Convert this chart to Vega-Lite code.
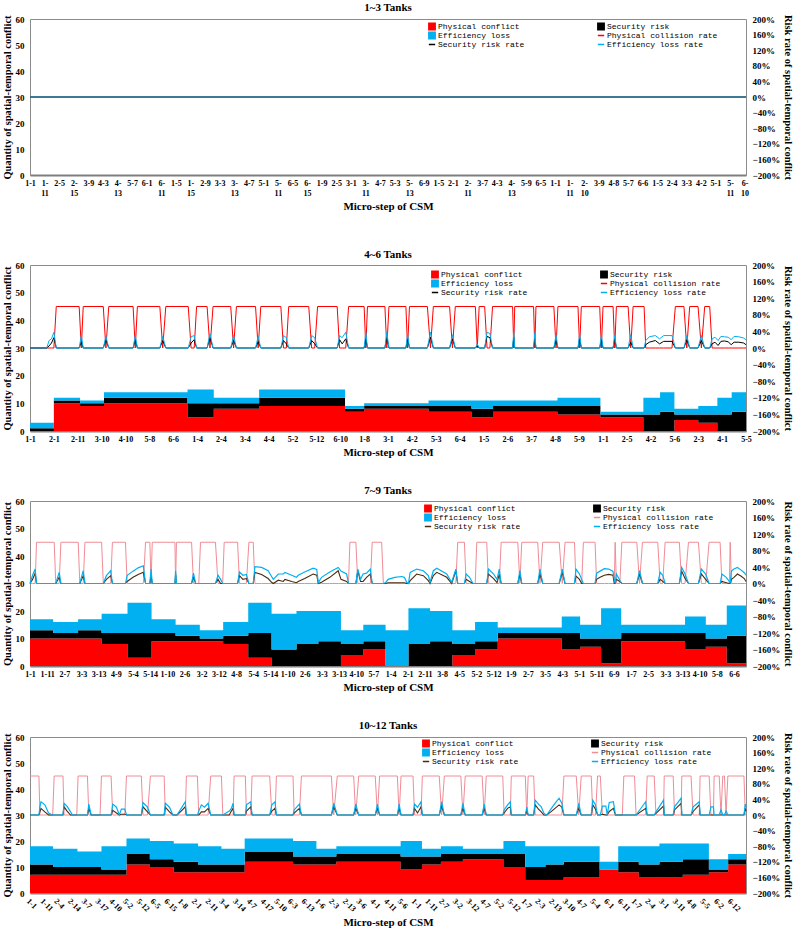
{
"$schema":"https://vega.github.io/schema/vega-lite/v6.json",
"background":"white",
"padding":{"top":1,"left":1,"right":1,"bottom":0},
"datasets":{
"a1":[{"x":0,"c1":0,"c2":0,"c3":0},{"x":491,"c1":0,"c2":0,"c3":0}],
"l1":[{"x":0,"r1":0,"r2":0,"r3":0},{"x":491,"r1":0,"r2":0,"r3":0}],
"a2":[{"x":0,"c1":0,"c2":1,"c3":2},{"x":10,"c1":10,"c2":1,"c3":1},{"x":21,"c1":9,"c2":1,"c3":1},{"x":31,"c1":10,"c2":2,"c3":2},{"x":66,"c1":5,"c2":5,"c3":5},{"x":77,"c1":8,"c2":2,"c3":2},{"x":96,"c1":9,"c2":3,"c3":3},{"x":132,"c1":7,"c2":1,"c3":1},{"x":140,"c1":8,"c2":1,"c3":1},{"x":167,"c1":7,"c2":2,"c3":2},{"x":185,"c1":5,"c2":3,"c3":3},{"x":194,"c1":7,"c2":2,"c3":2},{"x":221,"c1":6,"c2":3,"c3":3},{"x":239,"c1":5,"c2":1,"c3":1},{"x":257,"c1":0,"c2":6,"c3":6},{"x":264,"c1":0,"c2":7,"c3":7},{"x":270,"c1":4,"c2":2,"c3":2},{"x":280,"c1":3,"c2":3,"c3":3},{"x":288,"c1":0,"c2":6,"c3":6},{"x":294,"c1":0,"c2":7,"c3":7},{"x":300,"c1":0,"c2":7,"c3":7}],
"l2":[{"x":0,"r1":0,"r2":0,"r3":0},{"x":7,"r1":0,"r2":0,"r3":0},{"x":8,"r1":0,"r2":0.05,"r3":0.18},{"x":9,"r1":0,"r2":0.12,"r3":0.22},{"x":10,"r1":0,"r2":0.25,"r3":0.38},{"x":11,"r1":1,"r2":0,"r3":0},{"x":20.6,"r1":1,"r2":0,"r3":0},
{"x":21.5,"r1":0,"r2":0.15,"r3":0.3},{"x":22.3,"r1":1,"r2":0,"r3":0},{"x":30.7,"r1":1,"r2":0,"r3":0},
{"x":31.8,"r1":0,"r2":0.2,"r3":0.28},{"x":33,"r1":1,"r2":0,"r3":0},{"x":43.2,"r1":1,"r2":0,"r3":0},
{"x":44.1,"r1":0,"r2":0.2,"r3":0.3},{"x":45,"r1":1,"r2":0,"r3":0},{"x":54.4,"r1":1,"r2":0,"r3":0},
{"x":55.6,"r1":0,"r2":0.18,"r3":0.28},{"x":56.9,"r1":1,"r2":0,"r3":0},{"x":66.3,"r1":1,"r2":0,"r3":0},
{"x":67.5,"r1":0,"r2":0.12,"r3":0.27},{"x":68.8,"r1":0,"r2":0.2,"r3":0.3},{"x":69.8,"r1":1,"r2":0,"r3":0},{"x":74.2,"r1":1,"r2":0,"r3":0},
{"x":75.4,"r1":0,"r2":0.25,"r3":0.35},{"x":76.7,"r1":1,"r2":0,"r3":0},{"x":84.1,"r1":1,"r2":0,"r3":0},
{"x":85.3,"r1":0,"r2":0.18,"r3":0.3},{"x":86.5,"r1":1,"r2":0,"r3":0},{"x":94.5,"r1":1,"r2":0,"r3":0},
{"x":95.6,"r1":0,"r2":0.15,"r3":0.28},{"x":96.7,"r1":1,"r2":0,"r3":0},{"x":105.1,"r1":1,"r2":0,"r3":0},
{"x":106.2,"r1":0,"r2":0.18,"r3":0.3},{"x":107.4,"r1":0,"r2":0.1,"r3":0.25},{"x":108.4,"r1":1,"r2":0,"r3":0},{"x":116.8,"r1":1,"r2":0,"r3":0},
{"x":118,"r1":0,"r2":0.18,"r3":0.3},{"x":119.3,"r1":0,"r2":0.1,"r3":0.25},{"x":120.5,"r1":1,"r2":0,"r3":0},{"x":128.7,"r1":1,"r2":0,"r3":0},
{"x":129.7,"r1":0,"r2":0.2,"r3":0.3},{"x":130.8,"r1":0,"r2":0.1,"r3":0.25},{"x":132.3,"r1":0,"r2":0.22,"r3":0.38},{"x":133.5,"r1":1,"r2":0,"r3":0},{"x":140,"r1":1,"r2":0,"r3":0},
{"x":140.7,"r1":0,"r2":0.22,"r3":0.38},{"x":141.4,"r1":1,"r2":0,"r3":0},{"x":148.7,"r1":1,"r2":0,"r3":0},
{"x":149.5,"r1":0,"r2":0.25,"r3":0.38},{"x":150.4,"r1":1,"r2":0,"r3":0},{"x":157.5,"r1":1,"r2":0,"r3":0},
{"x":158.2,"r1":0,"r2":0.22,"r3":0.34},{"x":159,"r1":1,"r2":0,"r3":0},{"x":166.5,"r1":1,"r2":0,"r3":0},
{"x":167.8,"r1":0,"r2":0.26,"r3":0.38},{"x":169,"r1":1,"r2":0,"r3":0},{"x":175.8,"r1":1,"r2":0,"r3":0},
{"x":177,"r1":0,"r2":0.22,"r3":0.32},{"x":178.2,"r1":1,"r2":0,"r3":0},{"x":186.6,"r1":1,"r2":0,"r3":0},
{"x":187.4,"r1":0,"r2":0.05,"r3":0.1},{"x":188.2,"r1":1,"r2":0,"r3":0},{"x":190.5,"r1":1,"r2":0,"r3":0},
{"x":191.5,"r1":0,"r2":0.28,"r3":0.38},{"x":192.7,"r1":0,"r2":0.25,"r3":0.35},{"x":193.8,"r1":1,"r2":0,"r3":0},{"x":202.2,"r1":1,"r2":0,"r3":0},
{"x":202.7,"r1":0,"r2":0.26,"r3":0.38},{"x":203.1,"r1":1,"r2":0,"r3":0},{"x":211,"r1":1,"r2":0,"r3":0},
{"x":211.5,"r1":0,"r2":0.22,"r3":0.37},{"x":212,"r1":1,"r2":0,"r3":0},{"x":219.5,"r1":1,"r2":0,"r3":0},
{"x":220.4,"r1":0,"r2":0.18,"r3":0.32},{"x":221.2,"r1":1,"r2":0,"r3":0},{"x":229.6,"r1":1,"r2":0,"r3":0},
{"x":230.3,"r1":0,"r2":0.22,"r3":0.34},{"x":231,"r1":1,"r2":0,"r3":0},{"x":238.7,"r1":1,"r2":0,"r3":0},
{"x":239.4,"r1":0,"r2":0.2,"r3":0.32},{"x":240.1,"r1":1,"r2":0,"r3":0},{"x":244.3,"r1":1,"r2":0,"r3":0},
{"x":245,"r1":0,"r2":0.22,"r3":0.32},{"x":245.7,"r1":1,"r2":0,"r3":0},{"x":250.6,"r1":1,"r2":0,"r3":0},
{"x":251.7,"r1":0,"r2":0.14,"r3":0.32},{"x":252.7,"r1":1,"r2":0,"r3":0},{"x":257.3,"r1":1,"r2":0,"r3":0},
{"x":258,"r1":0,"r2":0.08,"r3":0.18},{"x":259.5,"r1":0,"r2":0.14,"r3":0.27},{"x":262,"r1":0,"r2":0.18,"r3":0.3},{"x":263.8,"r1":0,"r2":0.1,"r3":0.22},{"x":265.5,"r1":0,"r2":0.16,"r3":0.3},{"x":269,"r1":0,"r2":0.16,"r3":0.3},{"x":270.4,"r1":1,"r2":0,"r3":0},{"x":274,"r1":1,"r2":0,"r3":0},
{"x":275.2,"r1":0,"r2":0.2,"r3":0.3},{"x":276.4,"r1":1,"r2":0,"r3":0},{"x":279.9,"r1":1,"r2":0,"r3":0},
{"x":281.3,"r1":0,"r2":0.18,"r3":0.3},{"x":282.7,"r1":1,"r2":0,"r3":0},{"x":284.8,"r1":1,"r2":0,"r3":0},
{"x":285.8,"r1":0,"r2":0.1,"r3":0.22},{"x":287,"r1":0,"r2":0.14,"r3":0.26},{"x":288.3,"r1":0,"r2":0.06,"r3":0.18},{"x":289.5,"r1":0,"r2":0.16,"r3":0.28},{"x":291,"r1":0,"r2":0.17,"r3":0.27},{"x":292.5,"r1":0,"r2":0.15,"r3":0.26},{"x":293.8,"r1":0,"r2":0.08,"r3":0.2},{"x":295,"r1":0,"r2":0.14,"r3":0.28},{"x":297,"r1":0,"r2":0.14,"r3":0.27},{"x":299,"r1":0,"r2":0.12,"r3":0.24},{"x":300,"r1":0,"r2":0.08,"r3":0.2}],
"a3":[{"x":0,"c1":10,"c2":3,"c3":4},{"x":13.5,"c1":10,"c2":2,"c3":4},{"x":28,"c1":10,"c2":3,"c3":4},{"x":41.7,"c1":8,"c2":4,"c3":7},{"x":56.8,"c1":3,"c2":9,"c3":11},{"x":70.8,"c1":9,"c2":3,"c3":5},{"x":84.8,"c1":9,"c2":2,"c3":4},{"x":98.9,"c1":9,"c2":1,"c3":3},{"x":112.5,"c1":8,"c2":3,"c3":5},{"x":127.1,"c1":3,"c2":9,"c3":11},{"x":140.7,"c1":0,"c2":6,"c3":13},{"x":155.2,"c1":0,"c2":8,"c3":12},{"x":167.9,"c1":0,"c2":9,"c3":11},{"x":181.1,"c1":4,"c2":4,"c3":5},{"x":194.1,"c1":6,"c2":3,"c3":6},{"x":207.1,"c1":0,"c2":0,"c3":13},{"x":220.4,"c1":0,"c2":8,"c3":13},{"x":233,"c1":0,"c2":9,"c3":11},{"x":246,"c1":4,"c2":4,"c3":5},{"x":259.2,"c1":6,"c2":3,"c3":7},{"x":272.4,"c1":10,"c2":2,"c3":2},{"x":309.7,"c1":6,"c2":6,"c3":6},{"x":320.4,"c1":7,"c2":3,"c3":5},{"x":332.6,"c1":1,"c2":9,"c3":11},{"x":344.3,"c1":9,"c2":3,"c3":3},{"x":381.5,"c1":6,"c2":6,"c3":6},{"x":393.6,"c1":7,"c2":3,"c3":5},{"x":405.8,"c1":1,"c2":10,"c3":11},{"x":417,"c1":1,"c2":10,"c3":11}],
"l3":[{"x":0,"r1":0,"r2":0,"r3":0},{"x":1.5,"r1":0,"r2":0.1,"r3":0.2},{"x":3,"r1":0,"r2":0.25,"r3":0.35},{"x":3.8,"r1":1,"r2":0,"r3":0},{"x":14.1,"r1":1,"r2":0,"r3":0},
{"x":15,"r1":0,"r2":0,"r3":0},{"x":17,"r1":0,"r2":0.15,"r3":0.27},{"x":18,"r1":1,"r2":0,"r3":0},{"x":28.1,"r1":1,"r2":0,"r3":0},
{"x":29,"r1":0,"r2":0,"r3":0},{"x":31,"r1":0,"r2":0.19,"r3":0.31},{"x":32,"r1":1,"r2":0,"r3":0},{"x":41.7,"r1":1,"r2":0,"r3":0},
{"x":42.7,"r1":0,"r2":0,"r3":0},{"x":44.5,"r1":0,"r2":0.1,"r3":0.19},{"x":47,"r1":0,"r2":0.19,"r3":0.31},{"x":48,"r1":1,"r2":0,"r3":0},{"x":55.6,"r1":1,"r2":0,"r3":0},
{"x":56.6,"r1":0,"r2":0.05,"r3":0.2},{"x":60,"r1":0,"r2":0.15,"r3":0.3},{"x":63,"r1":0,"r2":0.22,"r3":0.38},{"x":66,"r1":0,"r2":0.27,"r3":0.43},{"x":67.3,"r1":1,"r2":0,"r3":0},{"x":69.8,"r1":1,"r2":0,"r3":0},
{"x":70.5,"r1":0,"r2":0.2,"r3":0.35},{"x":71.2,"r1":1,"r2":0,"r3":0},{"x":84.4,"r1":1,"r2":0,"r3":0},
{"x":84.8,"r1":0,"r2":0.23,"r3":0.31},{"x":85.3,"r1":1,"r2":0,"r3":0},{"x":94.1,"r1":1,"r2":0,"r3":0},
{"x":95.2,"r1":0,"r2":0.15,"r3":0.25},{"x":96.5,"r1":0,"r2":0,"r3":0},{"x":98.3,"r1":0,"r2":0,"r3":0},{"x":99.3,"r1":1,"r2":0,"r3":0},{"x":108,"r1":1,"r2":0,"r3":0},
{"x":109.5,"r1":0,"r2":0.1,"r3":0.2},{"x":111,"r1":0,"r2":0,"r3":0.1},{"x":112.2,"r1":0,"r2":0,"r3":0},{"x":113.1,"r1":1,"r2":0,"r3":0},{"x":120.9,"r1":1,"r2":0,"r3":0},
{"x":122,"r1":0,"r2":0.19,"r3":0.28},{"x":124,"r1":0,"r2":0.1,"r3":0.2},{"x":126,"r1":0,"r2":0.12,"r3":0.22},{"x":127.5,"r1":1,"r2":0,"r3":0},{"x":130,"r1":1,"r2":0,"r3":0},
{"x":131,"r1":0,"r2":0.27,"r3":0.41},{"x":134.9,"r1":0,"r2":0.22,"r3":0.39},{"x":138.7,"r1":0,"r2":0.12,"r3":0.31},{"x":140.7,"r1":0,"r2":0.03,"r3":0.17},{"x":141.7,"r1":0,"r2":0,"r3":0.1},{"x":144.6,"r1":0,"r2":0.08,"r3":0.23},{"x":147.5,"r1":0,"r2":0.05,"r3":0.23},{"x":148.5,"r1":0,"r2":0.1,"r3":0.27},{"x":152.4,"r1":0,"r2":0.05,"r3":0.2},{"x":155.2,"r1":0,"r2":0.02,"r3":0.15},{"x":156.2,"r1":0,"r2":0.05,"r3":0.2},{"x":160,"r1":0,"r2":0.12,"r3":0.28},{"x":164.9,"r1":0,"r2":0.23,"r3":0.37},{"x":167,"r1":0,"r2":0.2,"r3":0.34},{"x":167.9,"r1":0,"r2":0,"r3":0.02},{"x":169.8,"r1":0,"r2":0.03,"r3":0.15},{"x":174.6,"r1":0,"r2":0.15,"r3":0.28},{"x":179.5,"r1":0,"r2":0.31,"r3":0.39},{"x":181.1,"r1":0,"r2":0.1,"r3":0.3},{"x":184.4,"r1":0,"r2":0.05,"r3":0.23},{"x":185.5,"r1":0,"r2":0,"r3":0},{"x":186.3,"r1":1,"r2":0,"r3":0},{"x":189.8,"r1":1,"r2":0,"r3":0},
{"x":190.9,"r1":0,"r2":0.31,"r3":0.35},{"x":192.5,"r1":0,"r2":0.05,"r3":0.1},{"x":194,"r1":0,"r2":0.05,"r3":0.23},{"x":196,"r1":0,"r2":0.15,"r3":0.25},{"x":198.2,"r1":0,"r2":0.23,"r3":0.35},{"x":199.3,"r1":1,"r2":0,"r3":0},{"x":204.8,"r1":1,"r2":0,"r3":0},
{"x":205.8,"r1":0,"r2":0,"r3":0},{"x":207.1,"r1":0,"r2":0,"r3":0.02},{"x":208.6,"r1":0,"r2":0.02,"r3":0.1},{"x":212.5,"r1":0,"r2":0.02,"r3":0.15},{"x":216.4,"r1":0,"r2":0.02,"r3":0.17},{"x":218,"r1":0,"r2":0.02,"r3":0.15},{"x":219.4,"r1":0,"r2":0,"r3":0.03},{"x":220.4,"r1":0,"r2":0,"r3":0},{"x":221.4,"r1":0,"r2":0.07,"r3":0.27},{"x":225.2,"r1":0,"r2":0.23,"r3":0.35},{"x":229.1,"r1":0,"r2":0.19,"r3":0.31},{"x":232,"r1":0,"r2":0.07,"r3":0.19},{"x":233,"r1":0,"r2":0,"r3":0.03},{"x":234.9,"r1":0,"r2":0.19,"r3":0.31},{"x":236.9,"r1":0,"r2":0.27,"r3":0.37},{"x":242.7,"r1":0,"r2":0.15,"r3":0.23},{"x":245.6,"r1":0,"r2":0,"r3":0.03},{"x":248,"r1":0,"r2":0.31,"r3":0.35},{"x":249.1,"r1":1,"r2":0,"r3":0},{"x":253,"r1":1,"r2":0,"r3":0},
{"x":254,"r1":0,"r2":0.1,"r3":0.23},{"x":256,"r1":0,"r2":0.05,"r3":0.15},{"x":258,"r1":0,"r2":0,"r3":0},{"x":259.3,"r1":0,"r2":0,"r3":0},{"x":260.2,"r1":1,"r2":0,"r3":0},{"x":266,"r1":1,"r2":0,"r3":0},
{"x":267,"r1":0,"r2":0.23,"r3":0.35},{"x":270,"r1":0,"r2":0.12,"r3":0.23},{"x":272,"r1":0,"r2":0.02,"r3":0.1},{"x":273.3,"r1":0,"r2":0.23,"r3":0.35},{"x":274.4,"r1":1,"r2":0,"r3":0},{"x":284.1,"r1":1,"r2":0,"r3":0},
{"x":285.3,"r1":0,"r2":0.23,"r3":0.31},{"x":286.4,"r1":1,"r2":0,"r3":0},{"x":295.7,"r1":1,"r2":0,"r3":0},
{"x":297,"r1":0,"r2":0.23,"r3":0.35},{"x":298.6,"r1":1,"r2":0,"r3":0},{"x":308.2,"r1":1,"r2":0,"r3":0},
{"x":310,"r1":0,"r2":0.27,"r3":0.35},{"x":311.6,"r1":1,"r2":0,"r3":0},{"x":317.1,"r1":1,"r2":0,"r3":0},
{"x":318,"r1":0,"r2":0.18,"r3":0.35},{"x":320,"r1":0,"r2":0.1,"r3":0.23},{"x":321.3,"r1":0,"r2":0,"r3":0.1},{"x":322.3,"r1":1,"r2":0,"r3":0},{"x":329.1,"r1":1,"r2":0,"r3":0},
{"x":330,"r1":0,"r2":0.1,"r3":0.25},{"x":332,"r1":0,"r2":0.15,"r3":0.3},{"x":334.5,"r1":0,"r2":0.2,"r3":0.36},{"x":337,"r1":0,"r2":0.22,"r3":0.35},{"x":339.5,"r1":0,"r2":0.2,"r3":0.3},{"x":340.3,"r1":0,"r2":0,"r3":0.1},{"x":340.8,"r1":1,"r2":0,"r3":0},
{"x":341.5,"r1":0,"r2":0.1,"r3":0.23},{"x":343.5,"r1":0,"r2":0.05,"r3":0.08},{"x":344.7,"r1":1,"r2":0,"r3":0},{"x":353.4,"r1":1,"r2":0,"r3":0},
{"x":355,"r1":0,"r2":0.23,"r3":0.31},{"x":356.7,"r1":1,"r2":0,"r3":0},{"x":365.6,"r1":1,"r2":0,"r3":0},
{"x":367,"r1":0,"r2":0.1,"r3":0.27},{"x":368.5,"r1":0,"r2":0.05,"r3":0.2},{"x":369.9,"r1":1,"r2":0,"r3":0},{"x":378.2,"r1":1,"r2":0,"r3":0},
{"x":379.5,"r1":0,"r2":0.3,"r3":0.39},{"x":381.5,"r1":0,"r2":0.12,"r3":0.23},{"x":383.5,"r1":1,"r2":0,"r3":0},{"x":389.3,"r1":1,"r2":0,"r3":0},
{"x":391,"r1":0,"r2":0.23,"r3":0.35},{"x":393.5,"r1":0,"r2":0.1,"r3":0.23},{"x":395.5,"r1":1,"r2":0,"r3":0},{"x":401.9,"r1":1,"r2":0,"r3":0},
{"x":403,"r1":0,"r2":0.05,"r3":0.23},{"x":405.5,"r1":0,"r2":0.02,"r3":0.15},{"x":407.3,"r1":0,"r2":0,"r3":0.05},{"x":407.8,"r1":1,"r2":0,"r3":0},
{"x":408.5,"r1":0,"r2":0.1,"r3":0.3},{"x":410,"r1":0,"r2":0.15,"r3":0.35},{"x":412,"r1":0,"r2":0.23,"r3":0.39},{"x":414,"r1":0,"r2":0.18,"r3":0.33},{"x":416,"r1":0,"r2":0.12,"r3":0.26},{"x":417,"r1":0,"r2":0.05,"r3":0.2}],
"a4":[{"x":0,"c1":7,"c2":4,"c3":7},{"x":16.8,"c1":7,"c2":3,"c3":7},{"x":34.5,"c1":7,"c2":3,"c3":6},{"x":52,"c1":7,"c2":2,"c3":9},{"x":70.2,"c1":11,"c2":4,"c3":6},{"x":87.2,"c1":10,"c2":3,"c3":7},{"x":104.6,"c1":8,"c2":4,"c3":7},{"x":122.3,"c1":8,"c2":3,"c3":7},{"x":139.3,"c1":8,"c2":3,"c3":6},{"x":156.2,"c1":12,"c2":4,"c3":5},{"x":191.4,"c1":11,"c2":3,"c3":6},{"x":208.4,"c1":11,"c2":3,"c3":3},{"x":222.9,"c1":12,"c2":3,"c3":3},{"x":269.7,"c1":9,"c2":5,"c3":6},{"x":285.2,"c1":11,"c2":3,"c3":3},{"x":299,"c1":12,"c2":3,"c3":3},{"x":315,"c1":13,"c2":2,"c3":2},{"x":344.5,"c1":10,"c2":5,"c3":5},{"x":360.4,"c1":5,"c2":5,"c3":8},{"x":375,"c1":5,"c2":6,"c3":7},{"x":388.3,"c1":6,"c2":6,"c3":6},{"x":414.5,"c1":9,"c2":0,"c3":3},{"x":428,"c1":8,"c2":4,"c3":6},{"x":443,"c1":6,"c2":5,"c3":7},{"x":458,"c1":6,"c2":6,"c3":7},{"x":475,"c1":7,"c2":6,"c3":6},{"x":494,"c1":8,"c2":1,"c3":4},{"x":508,"c1":11,"c2":2,"c3":2},{"x":521,"c1":11,"c2":2,"c3":2}],
"l4":[{"x":0,"r1":1,"r2":0,"r3":0},{"x":6.5,"r1":1,"r2":0,"r3":0},
{"x":7.2,"r1":0,"r2":0.08,"r3":0.21},{"x":8,"r1":0,"r2":0.17,"r3":0.34},{"x":10.8,"r1":0,"r2":0.08,"r3":0.26},{"x":13.5,"r1":0,"r2":0,"r3":0.05},{"x":16.5,"r1":0,"r2":0,"r3":0},{"x":17.6,"r1":1,"r2":0,"r3":0},{"x":24,"r1":1,"r2":0,"r3":0},
{"x":24.8,"r1":0,"r2":0.21,"r3":0.3},{"x":27,"r1":0,"r2":0.1,"r3":0.22},{"x":29.5,"r1":0,"r2":0,"r3":0.08},{"x":31,"r1":0,"r2":0,"r3":0},{"x":34,"r1":0,"r2":0,"r3":0},{"x":35,"r1":1,"r2":0,"r3":0},{"x":41.8,"r1":1,"r2":0,"r3":0},
{"x":42.8,"r1":0,"r2":0.17,"r3":0.28},{"x":44.5,"r1":0,"r2":0,"r3":0},{"x":51,"r1":0,"r2":0,"r3":0},{"x":52,"r1":1,"r2":0,"r3":0},{"x":59,"r1":1,"r2":0,"r3":0},
{"x":60.2,"r1":0,"r2":0.12,"r3":0.28},{"x":62.9,"r1":0,"r2":0.05,"r3":0.2},{"x":65,"r1":0,"r2":0,"r3":0},{"x":66.5,"r1":0,"r2":0.02,"r3":0.15},{"x":69,"r1":0,"r2":0.02,"r3":0.15},{"x":70.2,"r1":1,"r2":0,"r3":0},{"x":81,"r1":1,"r2":0,"r3":0},
{"x":82.2,"r1":0,"r2":0.21,"r3":0.32},{"x":85.5,"r1":0,"r2":0.08,"r3":0.2},{"x":87.6,"r1":1,"r2":0,"r3":0},{"x":97.6,"r1":1,"r2":0,"r3":0},
{"x":98.5,"r1":0,"r2":0.2,"r3":0.3},{"x":101.5,"r1":0,"r2":0.08,"r3":0.2},{"x":104,"r1":0,"r2":0,"r3":0},{"x":107,"r1":0,"r2":0,"r3":0},{"x":110,"r1":0,"r2":0.1,"r3":0.17},{"x":113,"r1":0,"r2":0.21,"r3":0.34},{"x":113.8,"r1":1,"r2":0,"r3":0},{"x":121.8,"r1":1,"r2":0,"r3":0},
{"x":122.8,"r1":0,"r2":0,"r3":0.1},{"x":124.7,"r1":0,"r2":0.08,"r3":0.26},{"x":127,"r1":0,"r2":0.08,"r3":0.2},{"x":129.6,"r1":0,"r2":0.17,"r3":0.3},{"x":131.5,"r1":1,"r2":0,"r3":0},{"x":139.3,"r1":1,"r2":0,"r3":0},
{"x":140.3,"r1":0,"r2":0,"r3":0},{"x":145,"r1":0,"r2":0,"r3":0.1},{"x":146.5,"r1":0,"r2":0.1,"r3":0.17},{"x":147.8,"r1":0,"r2":0.17,"r3":0.3},{"x":148.5,"r1":1,"r2":0,"r3":0},{"x":156.7,"r1":1,"r2":0,"r3":0},
{"x":157.5,"r1":0,"r2":0.1,"r3":0.26},{"x":160.6,"r1":0,"r2":0.21,"r3":0.34},{"x":161.6,"r1":1,"r2":0,"r3":0},{"x":174.4,"r1":1,"r2":0,"r3":0},
{"x":176,"r1":0,"r2":0.1,"r3":0.26},{"x":178.3,"r1":0,"r2":0.17,"r3":0.34},{"x":179.3,"r1":1,"r2":0,"r3":0},{"x":191.4,"r1":1,"r2":0,"r3":0},
{"x":192.2,"r1":0,"r2":0.05,"r3":0.13},{"x":196,"r1":0,"r2":0.17,"r3":0.28},{"x":197.5,"r1":1,"r2":0,"r3":0},{"x":219.3,"r1":1,"r2":0,"r3":0},
{"x":221,"r1":0,"r2":0.21,"r3":0.3},{"x":223.6,"r1":1,"r2":0,"r3":0},{"x":235.5,"r1":1,"r2":0,"r3":0},
{"x":237,"r1":0,"r2":0.17,"r3":0.28},{"x":239.2,"r1":1,"r2":0,"r3":0},{"x":251.2,"r1":1,"r2":0,"r3":0},
{"x":252.8,"r1":0,"r2":0.17,"r3":0.28},{"x":254.4,"r1":1,"r2":0,"r3":0},{"x":267.3,"r1":1,"r2":0,"r3":0},
{"x":268.6,"r1":0,"r2":0.17,"r3":0.28},{"x":270,"r1":1,"r2":0,"r3":0},{"x":278.7,"r1":1,"r2":0,"r3":0},
{"x":279.8,"r1":0,"r2":0.17,"r3":0.28},{"x":282,"r1":0,"r2":0.05,"r3":0.2},{"x":284.5,"r1":0,"r2":0.21,"r3":0.34},{"x":285.5,"r1":1,"r2":0,"r3":0},{"x":297.8,"r1":1,"r2":0,"r3":0},
{"x":299.5,"r1":0,"r2":0.23,"r3":0.34},{"x":301.5,"r1":1,"r2":0,"r3":0},{"x":313.5,"r1":1,"r2":0,"r3":0},
{"x":315,"r1":0,"r2":0.17,"r3":0.3},{"x":316.7,"r1":1,"r2":0,"r3":0},{"x":329,"r1":1,"r2":0,"r3":0},
{"x":330.5,"r1":0,"r2":0.17,"r3":0.28},{"x":332,"r1":1,"r2":0,"r3":0},{"x":344,"r1":1,"r2":0,"r3":0},
{"x":345,"r1":0,"r2":0.05,"r3":0.13},{"x":347.5,"r1":0,"r2":0.17,"r3":0.26},{"x":349.5,"r1":0,"r2":0.21,"r3":0.34},{"x":350.2,"r1":1,"r2":0,"r3":0},{"x":360.4,"r1":1,"r2":0,"r3":0},
{"x":361.5,"r1":0,"r2":0.1,"r3":0.2},{"x":362.5,"r1":1,"r2":0,"r3":0},{"x":366.5,"r1":1,"r2":0,"r3":0},
{"x":367.6,"r1":0,"r2":0.26,"r3":0.38},{"x":370,"r1":0,"r2":0.15,"r3":0.28},{"x":372,"r1":0,"r2":0.08,"r3":0.21},{"x":374,"r1":0,"r2":0,"r3":0.04},{"x":376,"r1":0,"r2":0,"r3":0},{"x":379,"r1":0,"r2":0.08,"r3":0.15},{"x":382,"r1":0,"r2":0.17,"r3":0.3},{"x":385,"r1":0,"r2":0.26,"r3":0.43},{"x":387,"r1":0,"r2":0.2,"r3":0.3},{"x":388.5,"r1":1,"r2":0,"r3":0},{"x":397.5,"r1":1,"r2":0,"r3":0},
{"x":399.3,"r1":0,"r2":0.17,"r3":0.3},{"x":401.1,"r1":1,"r2":0,"r3":0},{"x":408.4,"r1":1,"r2":0,"r3":0},
{"x":409.5,"r1":0,"r2":0.26,"r3":0.38},{"x":411.5,"r1":0,"r2":0.15,"r3":0.26},{"x":413,"r1":1,"r2":0,"r3":0},{"x":415,"r1":1,"r2":0,"r3":0},
{"x":416.5,"r1":0,"r2":0.02,"r3":0.23},{"x":419,"r1":0,"r2":0,"r3":0.23},{"x":420,"r1":0,"r2":0,"r3":0},{"x":421.5,"r1":0,"r2":0.09,"r3":0.32},{"x":424.5,"r1":0,"r2":0.17,"r3":0.34},{"x":426,"r1":0,"r2":0,"r3":0},{"x":431,"r1":0,"r2":0,"r3":0},{"x":432.1,"r1":1,"r2":0,"r3":0},{"x":439.9,"r1":1,"r2":0,"r3":0},
{"x":441,"r1":0,"r2":0,"r3":0},{"x":448,"r1":0,"r2":0.17,"r3":0.34},{"x":449.1,"r1":1,"r2":0,"r3":0},{"x":454.2,"r1":1,"r2":0,"r3":0},
{"x":455.5,"r1":0,"r2":0.04,"r3":0.08},{"x":461,"r1":0,"r2":0.23,"r3":0.38},{"x":461.5,"r1":1,"r2":0,"r3":0},{"x":468,"r1":1,"r2":0,"r3":0},
{"x":469,"r1":0,"r2":0.13,"r3":0.21},{"x":473.8,"r1":0,"r2":0.3,"r3":0.43},{"x":474.3,"r1":1,"r2":0,"r3":0},{"x":481,"r1":1,"r2":0,"r3":0},
{"x":482.5,"r1":0,"r2":0.09,"r3":0.21},{"x":487,"r1":0,"r2":0.26,"r3":0.34},{"x":487.6,"r1":1,"r2":0,"r3":0},{"x":494.2,"r1":1,"r2":0,"r3":0},
{"x":495.5,"r1":0,"r2":0,"r3":0.21},{"x":497.3,"r1":0,"r2":0,"r3":0.21},{"x":497.8,"r1":1,"r2":0,"r3":0},{"x":501.5,"r1":1,"r2":0,"r3":0},
{"x":502.8,"r1":0,"r2":0,"r3":0.13},{"x":504.1,"r1":1,"r2":0,"r3":0},{"x":505.3,"r1":1,"r2":0,"r3":0},{"x":506.5,"r1":0,"r2":0,"r3":0.1},{"x":507.8,"r1":1,"r2":0,"r3":0},
{"x":519.5,"r1":1,"r2":0,"r3":0},{"x":520.5,"r1":0,"r2":0.17,"r3":0.28},{"x":521,"r1":0,"r2":0.1,"r3":0.2}]
},
"resolve":{"scale":{"color":"independent","strokeWidth":"independent"}},
"spacing":36,
"vconcat":[
{
 "width":716,"height":156,
 "title":{"text":"1~3 Tanks"},
 "resolve":{"scale":{"y":"independent"}},
 "encoding":{
  "x":{"field":"x","type":"quantitative","title":"Micro-step of CSM","scale":{"domain":[0,491],"nice":false,"zero":false},
   "axis":{"values":[0,10,20,30,40,50,60,70,80,90,100,110,120,130,140,150,160,170,180,190,200,210,220,230,240,250,260,270,280,290,300,310,320,330,340,350,360,370,380,390,400,410,420,430,440,450,460,470,480,490],
   "labelExpr":"split(['1-1','1-|11','2-5','2-|15','3-9','4-3','4-|13','5-7','6-1','6-|11','1-5','1-|15','2-9','3-3','3-|13','4-7','5-1','5-|11','6-5','6-|15','1-9','2-5','3-1','3-|11','4-7','5-3','5-|13','6-9','1-5','2-1','2-|11','3-7','4-3','4-|13','5-9','6-5','1-1','1-|11','2-|10','3-9','4-8','5-7','6-6','1-5','2-4','3-3','4-2','5-1','5-|11','6-|10'][round(datum.value/10)], '|')"}},
  "color":{"field":"k","type":"nominal","scale":{"domain":["c1","c2","c3","r1","r2","r3"],"range":["#FF0000","#000000","#00B0F0","#FF0000","#000000","#00B0F0"]},
   "legend":{"title":null,"orient":"none","legendX":398,"legendY":3,"columns":2,"direction":"horizontal",
    "labelExpr":"datum.label=='c1'?'Physical conflict':datum.label=='c2'?'Security risk':datum.label=='c3'?'Efficiency loss':datum.label=='r1'?'Physical collision rate':datum.label=='r2'?'Security risk rate':'Efficiency loss rate'",
    "encode":{"symbols":{"update":{"shape":{"signal":"indexof(['c1','c2','c3'],datum.value)>=0?'square':'stroke'"},"fill":{"signal":"datum.value=='c1'?'#FF0000':datum.value=='c2'?'#000000':datum.value=='c3'?'#00B0F0':'transparent'"},"stroke":{"signal":"datum.value=='r1'?'#FF0000':datum.value=='r2'?'#000000':datum.value=='r3'?'#00B0F0':'transparent'"},"strokeWidth":{"value":1.5},"opacity":{"value":1}}}}}}
 },
 "layer":[
  {"data":{"name":"a1"},"transform":[{"fold":["c1","c2","c3"],"as":["k","v"]}],
   "mark":{"type":"area","interpolate":"step-after"},
   "encoding":{"y":{"field":"v","type":"quantitative","stack":"zero","title":"Quantity of  spatial-temporal conflict","scale":{"domain":[0,60],"nice":false},"axis":{"values":[0,10,20,30,40,50,60]}},
    "order":{"field":"k","sort":"ascending"}}},
  {"data":{"name":"l1"},"transform":[{"fold":["r1","r2","r3"],"as":["k","v"]}],
   "mark":{"type":"line"},
   "encoding":{"y":{"field":"v","type":"quantitative","title":"Risk rate of spatial-temporal conflict","scale":{"domain":[-2,2],"nice":false},"axis":{"orient":"right","format":".0%","values":[-2,-1.6,-1.2,-0.8,-0.4,0,0.4,0.8,1.2,1.6,2]}},
    "strokeWidth":{"field":"k","type":"nominal","scale":{"domain":["r1","r2","r3"],"range":[1,1,2]},"legend":null}}}
 ]
},
{
 "resolve":{"scale":{"color":"independent","strokeWidth":"independent"}},
 "spacing":26,
 "vconcat":[
 {
 "width":716,"height":166,
 "title":{"text":"4~6 Tanks"},
 "resolve":{"scale":{"y":"independent"}},
 "encoding":{
  "x":{"field":"x","type":"quantitative","title":"Micro-step of CSM","scale":{"domain":[0,300],"nice":false,"zero":false},
   "axis":{"values":[0,10,20,30,40,50,60,70,80,90,100,110,120,130,140,150,160,170,180,190,200,210,220,230,240,250,260,270,280,290,300],
   "labelExpr":"['1-1','2-1','2-11','3-10','4-10','5-8','6-6','1-4','2-4','3-4','4-4','5-2','5-12','6-10','1-8','3-1','4-2','5-3','6-4','1-5','2-6','3-7','4-8','5-9','1-1','2-5','4-2','5-6','2-3','4-1','5-5'][round(datum.value/10)]"}},
  "color":{"field":"k","type":"nominal","scale":{"domain":["c1","c2","c3","r1","r2","r3"],"range":["#FF0000","#000000","#00B0F0","#FF0000","#000000","#00B0F0"]},
   "legend":{"title":null,"orient":"none","legendX":401,"legendY":5,"columns":2,"direction":"horizontal",
    "labelExpr":"datum.label=='c1'?'Physical conflict':datum.label=='c2'?'Security risk':datum.label=='c3'?'Efficiency loss':datum.label=='r1'?'Physical collision rate':datum.label=='r2'?'Security risk rate':'Efficiency loss rate'",
    "encode":{"symbols":{"update":{"shape":{"signal":"indexof(['c1','c2','c3'],datum.value)>=0?'square':'stroke'"},"fill":{"signal":"datum.value=='c1'?'#FF0000':datum.value=='c2'?'#000000':datum.value=='c3'?'#00B0F0':'transparent'"},"stroke":{"signal":"datum.value=='r1'?'#FF0000':datum.value=='r2'?'#000000':datum.value=='r3'?'#00B0F0':'transparent'"},"strokeWidth":{"value":1.5},"opacity":{"value":1}}}}}}
 },
 "layer":[
  {"data":{"name":"a2"},"transform":[{"fold":["c1","c2","c3"],"as":["k","v"]}],
   "mark":{"type":"area","interpolate":"step-after"},
   "encoding":{"y":{"field":"v","type":"quantitative","stack":"zero","title":"Quantity of  spatial-temporal conflict","scale":{"domain":[0,60],"nice":false},"axis":{"values":[0,10,20,30,40,50,60]}},
    "order":{"field":"k","sort":"ascending"}}},
  {"data":{"name":"l2"},"transform":[{"fold":["r1","r2","r3"],"as":["k","v"]}],
   "mark":{"type":"line"},
   "encoding":{"y":{"field":"v","type":"quantitative","title":"Risk rate of spatial-temporal conflict","scale":{"domain":[-2,2],"nice":false},"axis":{"orient":"right","format":".0%","values":[-2,-1.6,-1.2,-0.8,-0.4,0,0.4,0.8,1.2,1.6,2]}},
    "strokeWidth":{"field":"k","type":"nominal","scale":{"domain":["r1","r2","r3"],"range":[1,1,1.6]},"legend":null}}}
 ]
 },
 {
 "width":716,"height":165,
 "title":{"text":"7~9 Tanks"},
 "resolve":{"scale":{"y":"independent"}},
 "encoding":{
  "x":{"field":"x","type":"quantitative","title":"Micro-step of CSM","scale":{"domain":[0,417],"nice":false,"zero":false},
   "axis":{"values":[0,10,20,30,40,50,60,70,80,90,100,110,120,130,140,150,160,170,180,190,200,210,220,230,240,250,260,270,280,290,300,310,320,330,340,350,360,370,380,390,400,410],
   "labelExpr":"['1-1','1-11','2-7','3-3','3-13','4-9','5-4','5-14','1-10','2-6','3-2','3-12','4-8','5-4','5-14','1-10','2-6','3-3','3-13','4-10','5-7','1-4','2-1','2-11','3-8','4-5','5-2','5-12','1-9','2-7','3-5','4-3','5-1','5-11','6-9','1-7','2-5','3-3','3-13','4-10','5-8','6-6'][round(datum.value/10)]"}},
  "color":{"field":"k","type":"nominal","scale":{"domain":["c1","c2","c3","r1","r2","r3"],"range":["#FF0000","#000000","#00B0F0","#F08C96","#4A2A10","#00B0F0"]},
   "legend":{"title":null,"orient":"none","legendX":394,"legendY":3,"columns":2,"direction":"horizontal",
    "labelExpr":"datum.label=='c1'?'Physical conflict':datum.label=='c2'?'Security risk':datum.label=='c3'?'Efficiency loss':datum.label=='r1'?'Physical collision rate':datum.label=='r2'?'Security risk rate':'Efficiency loss rate'",
    "encode":{"symbols":{"update":{"shape":{"signal":"indexof(['c1','c2','c3'],datum.value)>=0?'square':'stroke'"},"fill":{"signal":"datum.value=='c1'?'#FF0000':datum.value=='c2'?'#000000':datum.value=='c3'?'#00B0F0':'transparent'"},"stroke":{"signal":"datum.value=='r1'?'#F08C96':datum.value=='r2'?'#4A2A10':datum.value=='r3'?'#00B0F0':'transparent'"},"strokeWidth":{"value":1.5},"opacity":{"value":1}}}}}}
 },
 "layer":[
  {"data":{"name":"a3"},"transform":[{"fold":["c1","c2","c3"],"as":["k","v"]}],
   "mark":{"type":"area","interpolate":"step-after"},
   "encoding":{"y":{"field":"v","type":"quantitative","stack":"zero","title":"Quantity of  spatial-temporal conflict","scale":{"domain":[0,60],"nice":false},"axis":{"values":[0,10,20,30,40,50,60]}},
    "order":{"field":"k","sort":"ascending"}}},
  {"data":{"name":"l3"},"transform":[{"fold":["r1","r2","r3"],"as":["k","v"]}],
   "mark":{"type":"line"},
   "encoding":{"y":{"field":"v","type":"quantitative","title":"Risk rate of spatial-temporal conflict","scale":{"domain":[-2,2],"nice":false},"axis":{"orient":"right","format":".0%","values":[-2,-1.6,-1.2,-0.8,-0.4,0,0.4,0.8,1.2,1.6,2]}},
    "strokeWidth":{"field":"k","type":"nominal","scale":{"domain":["r1","r2","r3"],"range":[1,1.2,1.6]},"legend":null}}}
 ]
 },
 {
 "width":716,"height":156,
 "title":{"text":"10~12 Tanks"},
 "resolve":{"scale":{"y":"independent"}},
 "encoding":{
  "x":{"field":"x","type":"quantitative","title":"Micro-step of CSM","scale":{"domain":[0,521],"nice":false,"zero":false},
   "axis":{"labelAngle":45,"labelAlign":"left","labelBaseline":"top","values":[0,10,20,30,40,50,60,70,80,90,100,110,120,130,140,150,160,170,180,190,200,210,220,230,240,250,260,270,280,290,300,310,320,330,340,350,360,370,380,390,400,410,420,430,440,450,460,470,480,490,500,510],
   "labelExpr":"['1-1','1-11','2-4','2-14','3-7','3-17','4-10','5-2','5-12','6-5','6-15','1-8','2-1','2-11','3-4','3-14','4-7','4-17','5-10','6-3','6-13','1-6','2-3','2-13','3-6','4-1','4-11','5-6','1-1','1-11','2-7','3-2','3-12','4-7','5-2','5-12','1-7','2-3','2-13','3-10','4-7','5-4','6-1','6-11','1-7','2-4','3-1','3-11','4-8','5-5','6-2','6-12'][round(datum.value/10)]"}},
  "color":{"field":"k","type":"nominal","scale":{"domain":["c1","c2","c3","r1","r2","r3"],"range":["#FF0000","#000000","#00B0F0","#F08C96","#4A2A10","#00B0F0"]},
   "legend":{"title":null,"orient":"none","legendX":392,"legendY":2,"columns":2,"direction":"horizontal",
    "labelExpr":"datum.label=='c1'?'Physical conflict':datum.label=='c2'?'Security risk':datum.label=='c3'?'Efficiency loss':datum.label=='r1'?'Physical collision rate':datum.label=='r2'?'Security risk rate':'Efficiency loss rate'",
    "encode":{"symbols":{"update":{"shape":{"signal":"indexof(['c1','c2','c3'],datum.value)>=0?'square':'stroke'"},"fill":{"signal":"datum.value=='c1'?'#FF0000':datum.value=='c2'?'#000000':datum.value=='c3'?'#00B0F0':'transparent'"},"stroke":{"signal":"datum.value=='r1'?'#F08C96':datum.value=='r2'?'#4A2A10':datum.value=='r3'?'#00B0F0':'transparent'"},"strokeWidth":{"value":1.5},"opacity":{"value":1}}}}}}
 },
 "layer":[
  {"data":{"name":"a4"},"transform":[{"fold":["c1","c2","c3"],"as":["k","v"]}],
   "mark":{"type":"area","interpolate":"step-after"},
   "encoding":{"y":{"field":"v","type":"quantitative","stack":"zero","title":"Quantity of  spatial-temporal conflict","scale":{"domain":[0,60],"nice":false},"axis":{"values":[0,10,20,30,40,50,60]}},
    "order":{"field":"k","sort":"ascending"}}},
  {"data":{"name":"l4"},"transform":[{"fold":["r1","r2","r3"],"as":["k","v"]}],
   "mark":{"type":"line"},
   "encoding":{"y":{"field":"v","type":"quantitative","title":"Risk rate of spatial-temporal conflict","scale":{"domain":[-2,2],"nice":false},"axis":{"orient":"right","format":".0%","values":[-2,-1.6,-1.2,-0.8,-0.4,0,0.4,0.8,1.2,1.6,2]}},
    "strokeWidth":{"field":"k","type":"nominal","scale":{"domain":["r1","r2","r3"],"range":[1,1.2,1.6]},"legend":null}}}
 ]
 }
 ]
}
],
"config":{
 "view":{"stroke":"#8c8c8c","strokeWidth":1},
 "axis":{"grid":false,"ticks":false,"domain":false,"labelFont":"Liberation Serif","labelFontWeight":"bold","labelColor":"#000","labelFontSize":9,"titleFont":"Liberation Serif","titleFontWeight":"bold","titleFontSize":10.5,"titleColor":"#000","labelPadding":6,"titlePadding":3},
 "axisX":{"labelFontSize":8,"labelPadding":4,"titleFontSize":11,"titlePadding":3,"labelFlush":false,"labelOverlap":false,"labelBound":false,"labelAngle":0,"domain":true,"domainColor":"#7f7f7f","domainWidth":2},
 "title":{"font":"Liberation Serif","fontSize":11,"fontWeight":"bold","color":"#000","offset":1},
 "legend":{"labelFont":"Liberation Mono","labelFontSize":8,"labelColor":"#000","symbolSize":40,"labelOffset":2,"rowPadding":0,"columnPadding":72,"padding":0,"clipHeight":9}
}
}
